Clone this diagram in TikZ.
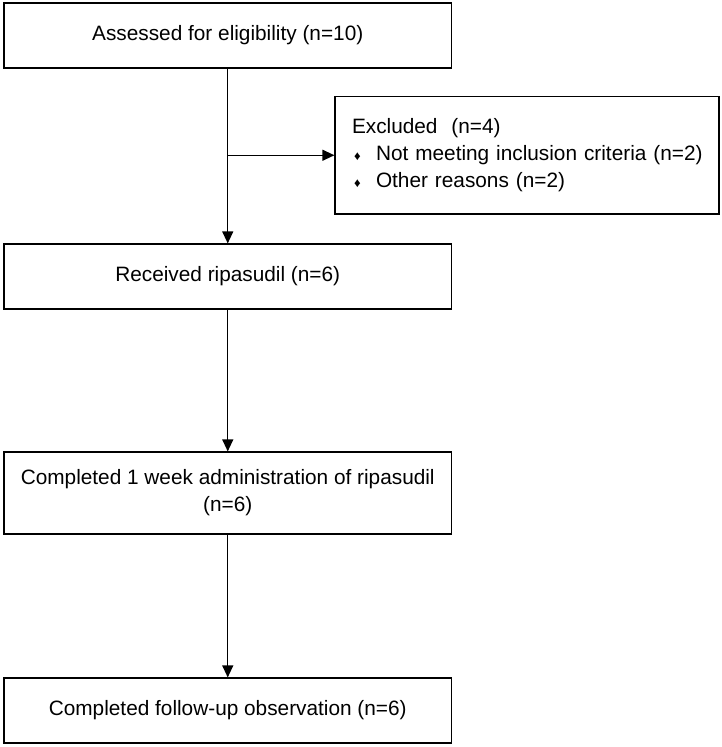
\documentclass[tikz,border=0pt]{standalone}
\usepackage{fontspec}
\setmainfont{Liberation Sans}
\usetikzlibrary{arrows.meta,calc}
\newcommand{\smalldiamond}{{\fontsize{13}{13}\selectfont ♦}}
\begin{document}
\begin{tikzpicture}[x=1pt,y=-1pt,
  flowbox/.style={draw=black, line width=1.2pt, minimum width=447.5pt, align=center, inner sep=0pt, font=\fontsize{20.8}{27}\selectfont},
  conn/.style={line width=1.2pt, -{Triangle[length=12pt,width=11pt]}}]
\useasboundingbox (0,0) rectangle (722,747);
\node[flowbox, minimum height=65pt] (assess) at (227.75,35.5) {Assessed for eligibility (n=10)};
\node[draw=black, line width=1.2pt, minimum width=384pt, minimum height=117.5pt, text width=350pt, inner xsep=17pt, inner ysep=0pt, align=left, font=\fontsize{20.8}{27}\selectfont] (excl) at (527,155.25)
  {\mbox{Excluded\ \ (n=4)}\\
   \mbox{\hspace*{2pt}\makebox[22pt][l]{\smalldiamond}Not meeting inclusion criteria (n=2)}\\
   \mbox{\hspace*{2pt}\makebox[22pt][l]{\smalldiamond}Other reasons (n=2)}};
\node[flowbox, minimum height=65pt] (recv) at (227.75,276.5) {Received ripasudil (n=6)};
\node[flowbox, minimum height=82pt] (compl) at (227.75,493) {Completed 1 week administration of ripasudil\\(n=6)};
\node[flowbox, minimum height=65pt] (follow) at (227.75,710.5) {Completed follow-up observation (n=6)};
\coordinate (junc) at (assess.south |- excl.west);
\draw[conn] (assess.south) -- (recv.north);
\draw[conn] (junc) -- (excl.west);
\draw[conn] (recv.south) -- (compl.north);
\draw[conn] (compl.south) -- (follow.north);
\end{tikzpicture}
\end{document}
